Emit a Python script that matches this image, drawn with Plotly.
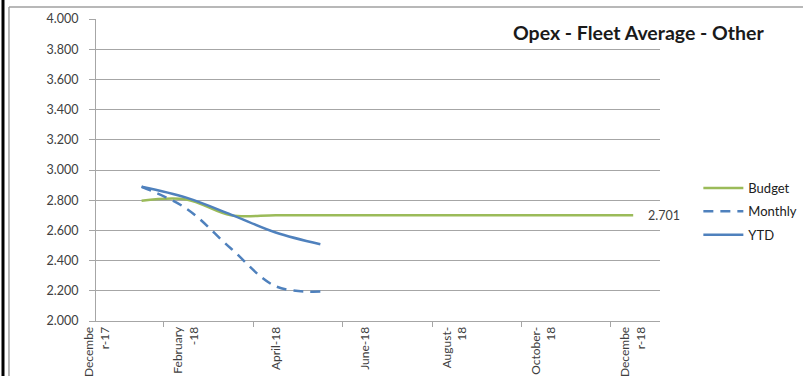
import plotly.graph_objects as go

# Month positions: 0 = December 2017, 12 = December 2018
month_idx = [1, 2, 3, 4, 5, 6, 7, 8, 9, 10, 11, 12]
budget = [2.797, 2.805, 2.700, 2.701, 2.701, 2.701, 2.701, 2.701, 2.701, 2.701, 2.701, 2.701]
monthly = [2.889, 2.745, 2.480, 2.230, 2.195]
ytd = [2.889, 2.817, 2.705, 2.586, 2.508]

label_pos = [0, 2, 4, 6, 8, 10, 12]
label_text = ["Decembe<br>r-17", "February<br>-18", "April-18", "June-18",
              "August-<br>18", "October-<br>18", "Decembe<br>r-18"]
tick_pos = [1.5, 3.5, 5.5, 7.5, 9.5, 11.5]

GREEN = "#9BBB59"
BLUE = "#4F81BD"
GRID = "#A6A6A6"
TXT = "#404040"
FONT = "Lato"

fig = go.Figure()
fig.add_trace(go.Scatter(x=month_idx, y=budget, name="Budget", mode="lines", legendgroup="b",
                         line=dict(color=GREEN, width=2.5, shape="spline")))
fig.add_trace(go.Scatter(x=month_idx[:len(monthly)], y=monthly, name="Monthly", mode="lines",
                         legendgroup="m",
                         line=dict(color=BLUE, width=2.5, shape="spline", dash="10px,7px")))
fig.add_trace(go.Scatter(x=month_idx[:len(ytd)], y=ytd, name="YTD", mode="lines", legendgroup="y",
                         line=dict(color=BLUE, width=2.5, shape="spline")))
# invisible trace carrying the secondary x axis (tick marks between labels)
fig.add_trace(go.Scatter(x=[tick_pos[0]], y=[budget[0]], xaxis="x2", mode="markers",
                         marker=dict(opacity=0), showlegend=False, hoverinfo="skip"))

fig.update_layout(
    width=803, height=376,
    margin=dict(l=96, r=143, t=19, b=55, autoexpand=False),
    paper_bgcolor="white", plot_bgcolor="white",
    font=dict(family=FONT, size=12, color=TXT),
    xaxis=dict(range=[-0.02, 12.6], tickvals=label_pos, ticktext=label_text,
               tickangle=-90, ticks="", showgrid=False, zeroline=False,
               showline=True, linecolor=GRID, linewidth=1, automargin=False,
               tickfont=dict(size=12, color=TXT)),
    xaxis2=dict(range=[-0.02, 12.6], overlaying="x", side="bottom",
                tickvals=tick_pos, showticklabels=False, ticks="outside",
                ticklen=5, tickcolor=GRID, showgrid=False, zeroline=False,
                showline=False, automargin=False),
    yaxis=dict(range=[2.0, 4.0], dtick=0.2, tickformat=".3f",
               showgrid=True, gridcolor=GRID, gridwidth=1,
               ticks="outside", ticklen=6, tickcolor=GRID,
               showline=True, linecolor=GRID, linewidth=1, zeroline=False,
               automargin=False, ticklabelstandoff=8,
               tickfont=dict(size=12.5, color=TXT)),
    legend=dict(x=1.068, y=0.49, xanchor="left", yanchor="top",
                font=dict(size=13, color="#202020"), bgcolor="rgba(0,0,0,0)",
                itemwidth=40, tracegroupgap=3.5),
    showlegend=True,
)

# Title text inside the plot
fig.add_annotation(text="<b>Opex - Fleet Average - Other</b>", xref="paper", yref="paper",
                   x=1.1894, y=0.954, xanchor="right", yanchor="middle", showarrow=False,
                   font=dict(family=FONT, size=19.5, color="#1a1a1a"))

# Value label at the last budget point
fig.add_annotation(text=f"{budget[-1]:.3f}", x=month_idx[-1], y=budget[-1],
                   xanchor="left", yanchor="middle", xshift=13, showarrow=False,
                   font=dict(size=12.5, color=TXT))

# Chart frame lines
fig.add_shape(type="line", xref="paper", yref="paper", x0=-0.1543, x1=1.2535, y0=1.0397, y1=1.0397,
              line=dict(color="#A0A0A0", width=1.5))
fig.add_shape(type="line", xref="paper", yref="paper", x0=-0.1543, x1=-0.1543, y0=1.0397, y1=-0.19,
              line=dict(color="#A0A0A0", width=1.5))
fig.add_shape(type="line", xref="paper", yref="paper", x0=-0.1649, x1=-0.1649, y0=1.07, y1=-0.19,
              line=dict(color="black", width=3))

fig.write_html("out.html")
